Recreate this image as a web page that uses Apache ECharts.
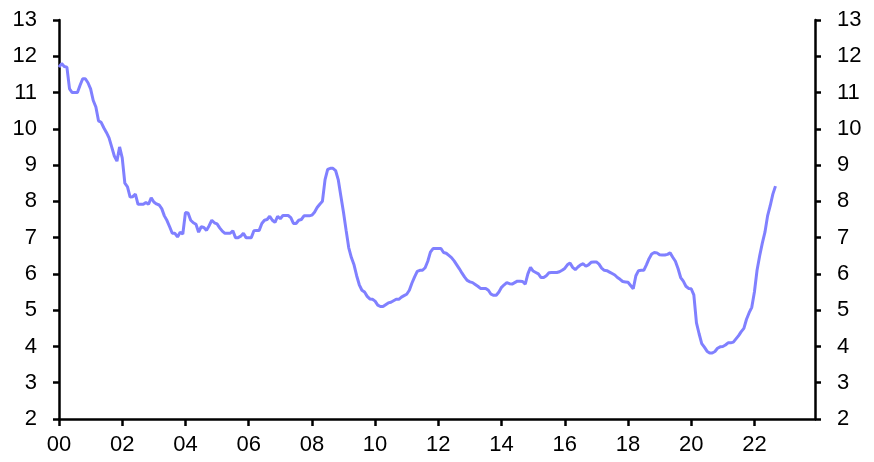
<!DOCTYPE html>
<html>
<head>
<meta charset="utf-8">
<script src="https://cdn.jsdelivr.net/npm/echarts@6/dist/echarts.min.js"></script>
<style>
  html, body { margin: 0; padding: 0; background: #fff; }
  #chart { width: 874px; height: 462px; }
</style>
</head>
<body>
<div id="chart"></div>
<script>
// monthly categories, Jan 2000 .. Dec 2023
const startYear = 2000
const endYear = 2023
const months = []
for (let y = startYear; y <= endYear; y++) {
  for (let m = 1; m <= 12; m++) {
    months.push(y + '-' + (m < 10 ? '0' + m : m))
  }
}

// y axis range
const yMin = 2
const yMax = 13

// values, one per month from Jan 2000
const rate = [
  11.7, 11.8, 11.72, 11.7, 11.1, 11.0, 11.0, 11.0, 11.2, 11.38, 11.38, 11.27,
  11.1, 10.78, 10.6, 10.22, 10.18, 10.03, 9.9, 9.75, 9.5, 9.25, 9.11, 9.5,
  9.2, 8.5, 8.4, 8.12, 8.13, 8.2, 7.92, 7.92, 7.92, 7.97, 7.92, 8.1,
  7.98, 7.93, 7.9, 7.8, 7.6, 7.47, 7.3, 7.12, 7.12, 7.02, 7.15, 7.1,
  7.69, 7.68, 7.48, 7.41, 7.37, 7.15, 7.3, 7.28, 7.2, 7.33, 7.48, 7.41,
  7.38, 7.27, 7.18, 7.12, 7.12, 7.12, 7.19, 7.0, 7.0, 7.04, 7.12, 7.0,
  7.0, 7.0, 7.19, 7.2, 7.2, 7.39, 7.48, 7.5, 7.59, 7.48, 7.42, 7.59,
  7.52, 7.61, 7.61, 7.61, 7.55, 7.39, 7.39, 7.48, 7.5, 7.6, 7.6, 7.6,
  7.62, 7.7, 7.83, 7.92, 8.0, 8.6, 8.88, 8.91, 8.91, 8.85, 8.6, 8.15,
  7.7, 7.2, 6.72, 6.45, 6.25, 5.95, 5.7, 5.55, 5.5, 5.38, 5.31, 5.3,
  5.25, 5.14, 5.1, 5.1, 5.15, 5.2, 5.22, 5.26, 5.3, 5.3, 5.36, 5.4,
  5.44, 5.55, 5.75, 5.92, 6.07, 6.1, 6.1, 6.17, 6.35, 6.6, 6.7, 6.7,
  6.7, 6.7, 6.59, 6.57, 6.51, 6.45, 6.36, 6.25, 6.14, 6.02, 5.91, 5.82,
  5.78, 5.76, 5.71, 5.66, 5.6, 5.6, 5.6, 5.55, 5.44, 5.41, 5.41, 5.5,
  5.63, 5.7, 5.76, 5.73, 5.72, 5.76, 5.8, 5.8, 5.79, 5.72, 6.0, 6.18,
  6.08, 6.04, 6.0, 5.9, 5.9, 5.95, 6.03, 6.04, 6.04, 6.04, 6.06, 6.1,
  6.15, 6.25, 6.3, 6.18, 6.12, 6.19, 6.25, 6.28, 6.21, 6.25, 6.32, 6.33,
  6.33, 6.27, 6.16, 6.1, 6.09, 6.05, 6.01, 5.97, 5.9, 5.85, 5.79, 5.78,
  5.77, 5.68, 5.59, 5.95, 6.09, 6.1, 6.1, 6.25, 6.42, 6.55, 6.59, 6.58,
  6.53, 6.52, 6.52, 6.54, 6.58, 6.46, 6.35, 6.15, 5.9, 5.8, 5.66, 5.6,
  5.59, 5.42, 4.65, 4.35, 4.08, 3.98, 3.87, 3.82, 3.82, 3.86, 3.95, 3.99,
  4.0, 4.04, 4.1, 4.1, 4.12, 4.21, 4.3, 4.41, 4.5, 4.75, 4.93, 5.08,
  5.5, 6.1, 6.5, 6.85, 7.15, 7.6, 7.88, 8.2, 8.42
]

const font = '"Liberation Sans", Arial, sans-serif'
const tickEvery = 24 // one label every two years

let chart = echarts.init(document.getElementById('chart'), null, { renderer: 'canvas' })

// y axis shared bits, left and right look the same
function yAxisOf(pos) {
  return {
    type: 'value',
    position: pos,
    min: yMin,
    max: yMax,
    interval: 1,
    splitLine: { show: false },
    axisLine: { show: true, lineStyle: { color: '#000', width: 2.5 } },
    axisTick: { show: true, inside: false, length: 6, lineStyle: { color: '#000', width: 2.5 } },
    axisLabel: { color: '#000', fontSize: 22, fontFamily: font, margin: 22 },
  }
}

let option = {
  animation: false,
  backgroundColor: '#fff',
  grid: { left: 59, right: 59, top: 20, bottom: 43, containLabel: false },
  xAxis: {
    type: 'category',
    data: months,
    boundaryGap: false,
    axisLine: { show: true, lineStyle: { color: '#000', width: 2.5 } },
    axisTick: {
      show: true,
      length: 7,
      interval: (idx) => idx % tickEvery === 0,
      lineStyle: { color: '#000', width: 2.5 },
    },
    axisLabel: {
      color: '#000',
      fontSize: 22,
      fontFamily: font,
      margin: 15,
      interval: (idx) => idx % tickEvery === 0,
      formatter: (v) => v.slice(2, 4),
    },
    splitLine: { show: false },
  },
  yAxis: [yAxisOf('left'), yAxisOf('right')],
  series: [
    {
      type: 'line',
      data: rate,
      yAxisIndex: 0,
      showSymbol: false,
      symbol: 'none',
      lineStyle: { color: '#8080ff', width: 3 },
    },
  ],
}
chart.setOption(option)
</script>
</body>
</html>
